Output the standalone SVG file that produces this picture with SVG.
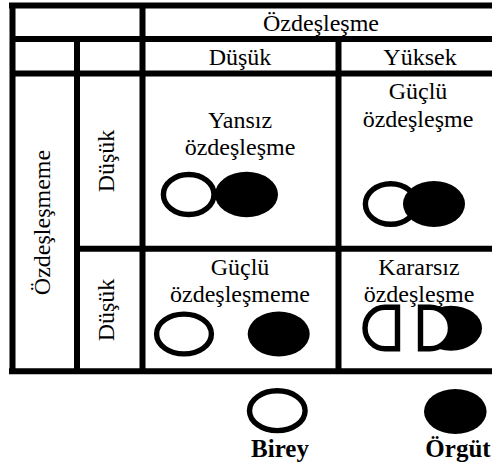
<svg xmlns="http://www.w3.org/2000/svg" width="492" height="468" viewBox="0 0 492 468">
<style>
text{font-family:"Liberation Serif","Times New Roman",serif;font-size:24px;fill:#000;text-anchor:middle}
.b{font-weight:bold;font-size:25px}
.l{stroke:#000;stroke-width:6;fill:none}
.w{fill:#fff;stroke:#000;stroke-width:5.400}
.k{fill:#000}
</style>
<rect width="492" height="468" fill="#fff"/>
<g id="connectors">
<path class="l" d="M9 5.500H492M15 39H492M15 73.500H492M80 248.700H492M9 371.300H492M12.500 5V371M142.500 5V371M77 39V371M338.500 39V371"/>
</g>
<g id="header"><text x="321" y="31">Özdeşleşme</text><text x="240" y="65">Düşük</text><text x="420" y="65">Yüksek</text></g>
<g id="side"><text transform="translate(50 222.500) rotate(-90)">Özdeşleşmeme</text><text transform="translate(114 161) rotate(-90)">Düşük</text><text transform="translate(114 310) rotate(-90)">Düşük</text></g>
<g id="yansiz"><text x="240" y="128">Yansız</text><text x="240" y="154.500">özdeşleşme</text><ellipse class="k" cx="246.500" cy="194.500" rx="31.500" ry="22.700"/><ellipse class="w" cx="188.700" cy="194.500" rx="25.300" ry="20"/></g>
<g id="guclu"><text x="418" y="99">Güçlü</text><text x="418" y="127">özdeşleşme</text><ellipse class="w" cx="390.700" cy="204" rx="25.300" ry="20.300"/><ellipse class="k" cx="434" cy="204" rx="31" ry="23"/></g>
<g id="gucsuz"><text x="240" y="274.500">Güçlü</text><text x="240" y="302">özdeşleşmeme</text><ellipse class="w" cx="184" cy="334" rx="27.400" ry="19.900"/><ellipse class="k" cx="278.700" cy="334" rx="31" ry="22.500"/></g>
<g id="kararsiz"><ellipse class="k" cx="451" cy="328.200" rx="31" ry="22.500"/><path class="w" d="M397.500 307.300H385A20 20.700 0 0 0 385 348.700H397.500Z"/><path class="w" d="M420.500 307.300H430A20.500 20.700 0 0 1 430 348.700H420.500Z"/><text x="419" y="274.500">Kararsız</text><text x="419" y="302">özdeşleşme</text></g>
<g id="birey"><ellipse class="w" cx="277.300" cy="410.700" rx="27.800" ry="19.900"/><text class="b" x="280" y="457">Birey</text></g>
<g id="orgut"><ellipse class="k" cx="455.300" cy="411.500" rx="31.300" ry="22.500"/><text class="b" x="458" y="457">Örgüt</text></g>
</svg>
